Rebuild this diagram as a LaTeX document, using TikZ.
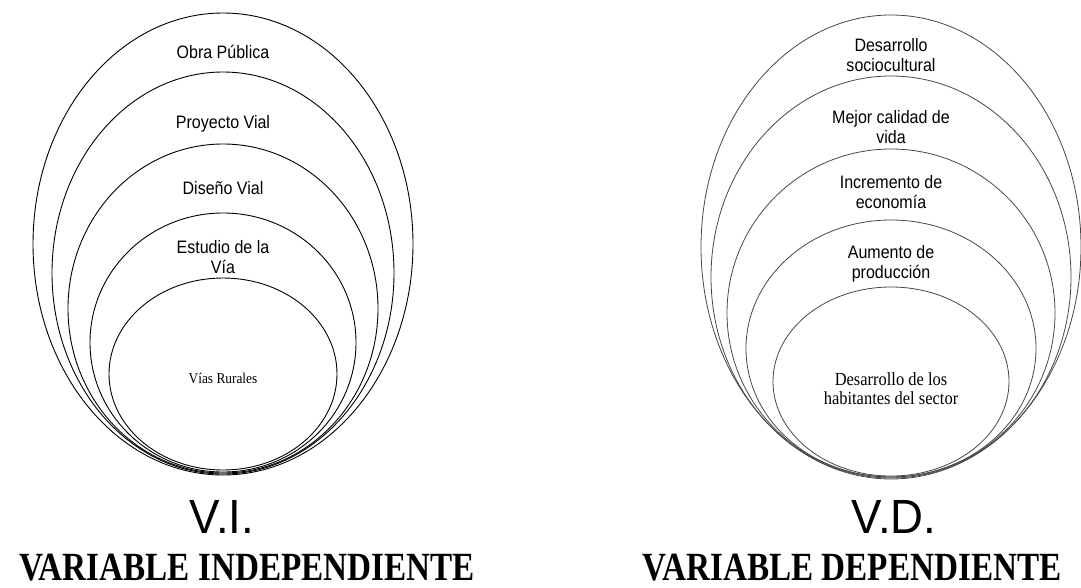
\documentclass[tikz,border=0pt]{standalone}
\usepackage{fontspec}
\setmainfont{Liberation Serif}
\newfontfamily\arialf{Liberation Sans}
\usepackage{graphicx}
\newcommand\sqz[2]{\scalebox{#1}[1]{\begin{tabular}[t]{@{}c@{}}#2\end{tabular}}}
\newcommand\sqo[2]{\scalebox{#1}[1]{#2}}
\begin{document}
\begin{tikzpicture}[x=1pt,y=-1pt,
  ringL/.style={draw=black, line width=0.9pt},
  ringR/.style={draw=black!72, line width=0.8pt},
  lab/.style={anchor=base, inner sep=0pt, font=\arialf\fontsize{18}{20}\selectfont},
  labT/.style={anchor=base, inner sep=0pt, font=\fontsize{18.5}{19.5}\selectfont},
  big/.style={anchor=base, inner sep=0pt, font=\arialf\fontsize{48}{50}\selectfont},
  head/.style={anchor=base, inner sep=0pt, font=\bfseries\fontsize{40}{42}\selectfont}]
\useasboundingbox (0,0) rectangle (1081,587);
% left rings
\draw[ringL] (223,244) ellipse [x radius=190, y radius=231];
\draw[ringL] (223,273) ellipse [x radius=171, y radius=201];
\draw[ringL] (223,308.5) ellipse [x radius=155, y radius=164.5];
\draw[ringL] (223,342.5) ellipse [x radius=133, y radius=129.5];
\draw[ringL] (223,374) ellipse [x radius=114, y radius=96];
% right rings
\draw[ringR] (891,247) ellipse [x radius=190, y radius=232];
\draw[ringR] (891,277) ellipse [x radius=180, y radius=201];
\draw[ringR] (891,313) ellipse [x radius=164, y radius=164];
\draw[ringR] (891,348.5) ellipse [x radius=145, y radius=128.5];
\draw[ringR] (891,381.5) ellipse [x radius=118, y radius=94.5];
% left labels
\node[lab] (obra) at (223,58) {\sqz{0.89}{Obra Pública}};
\node[lab] (proy) at (223,128) {\sqz{0.89}{Proyecto Vial}};
\node[lab] (dise) at (223,194) {\sqz{0.89}{Diseño Vial}};
\node[lab] (estu) at (223,253) {\sqz{0.89}{Estudio de la\\Vía}};
\node[labT, font=\fontsize{15}{17}\selectfont] (rura) at (223,383) {\sqz{0.89}{Vías Rurales}};
% right labels
\node[lab] (soci) at (891,51) {\sqz{0.89}{Desarrollo\\sociocultural}};
\node[lab] (cali) at (891,123) {\sqz{0.89}{Mejor calidad de\\vida}};
\node[lab] (econ) at (891,188) {\sqz{0.89}{Incremento de\\economía}};
\node[lab] (prod) at (891,258) {\sqz{0.89}{Aumento de\\producción}};
\node[labT] (habi) at (891,385) {\sqz{0.89}{Desarrollo de los\\habitantes del sector}};
% bottom labels
\node[big] (vi) at (222,533) {\sqo{0.95}{V.I.}};
\node[big] (vd) at (894,533) {\sqo{0.95}{V.D.}};
\node[head] (vind) at (247,580) {\sqo{0.83}{VARIABLE INDEPENDIENTE}};
\node[head] (vdep) at (852,580) {\sqo{0.83}{VARIABLE DEPENDIENTE}};
\end{tikzpicture}
\end{document}
